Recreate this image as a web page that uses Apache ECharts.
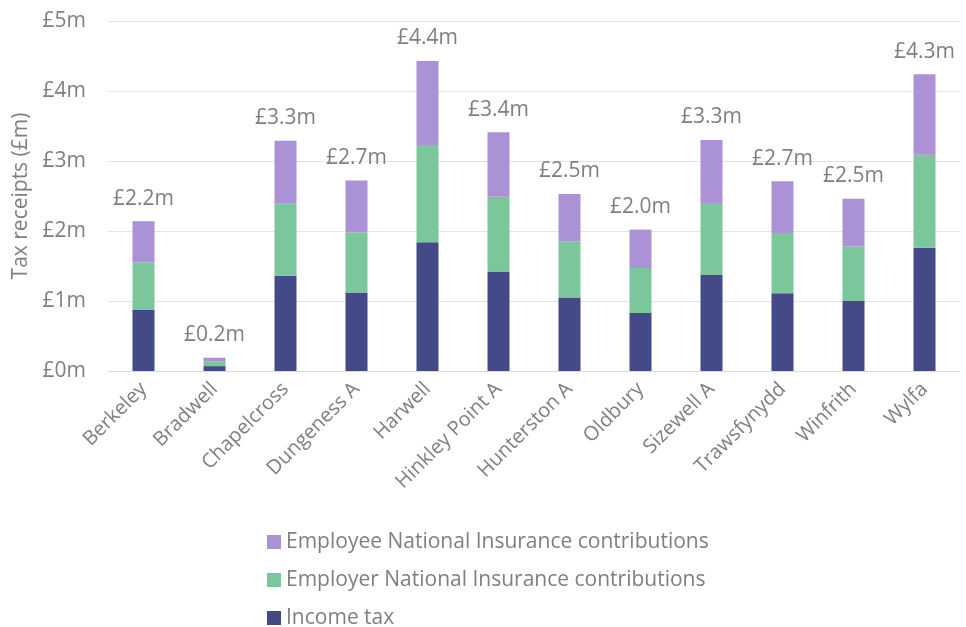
<!DOCTYPE html>
<html>
<head>
<meta charset="utf-8">
<script src="https://cdn.jsdelivr.net/npm/echarts@6/dist/echarts.min.js"></script>
<style>html,body{margin:0;padding:0;background:#fff}#c{width:966px;height:627px}</style>
</head>
<body>
<div id="c"></div>
<script>
const categories = ["Berkeley","Bradwell","Chapelcross","Dungeness A","Harwell","Hinkley Point A","Hunterston A","Oldbury","Sizewell A","Trawsfynydd","Winfrith","Wylfa"];
const incomeTax = [0.87, 0.07, 1.36, 1.12, 1.84, 1.42, 1.05, 0.83, 1.37, 1.11, 1.00, 1.76];
const employerNI = [0.68, 0.07, 1.03, 0.86, 1.39, 1.07, 0.80, 0.64, 1.03, 0.86, 0.78, 1.33];
const employeeNI = [0.59, 0.05, 0.90, 0.74, 1.20, 0.92, 0.68, 0.55, 0.90, 0.74, 0.68, 1.15];
const totalLabels = ["£2.2m","£0.2m","£3.3m","£2.7m","£4.4m","£3.4m","£2.5m","£2.0m","£3.3m","£2.7m","£2.5m","£4.3m"];
const yTicks = ["£0m","£1m","£2m","£3m","£4m","£5m"];

const FONT = "Open Sans";
const GREY = "#7f7f7f";
const chart = echarts.init(document.getElementById('c'));
const barW = 22;
chart.setOption({
  animation: false,
  textStyle: { fontFamily: FONT },
  grid: { left: 108, right: 6, top: 21, bottom: 256, containLabel: false },
  legend: {
    orient: 'vertical', left: 262, top: 526, height: 115, itemGap: 16,
    itemWidth: 14, itemHeight: 14, icon: 'rect',
    textStyle: { fontSize: 21, lineHeight: 22, color: GREY, fontFamily: FONT },
    data: ["Employee National Insurance contributions","Employer National Insurance contributions","Income tax"]
  },
  xAxis: {
    type: 'category', data: categories,
    axisLine: { lineStyle: { color: '#d9d9d9' } },
    axisTick: { show: false },
    axisLabel: { rotate: 45, fontSize: 20, color: GREY, margin: 15, interval: 0, fontFamily: FONT }
  },
  yAxis: {
    type: 'value', min: 0, max: 5, interval: 1,
    name: 'Tax receipts (£m)', nameLocation: 'middle', nameGap: 70, nameRotate: 90,
    nameTextStyle: { fontSize: 21, color: GREY, fontFamily: FONT },
    axisLine: { show: false }, axisTick: { show: false },
    splitLine: { lineStyle: { color: '#e3e3e3' } },
    axisLabel: { fontSize: 21, color: GREY, margin: 22, fontFamily: FONT, formatter: (v) => yTicks[Math.round(v)] }
  },
  series: [
    { name: 'Income tax', type: 'bar', stack: 't', barWidth: barW, data: incomeTax, itemStyle: { color: '#434a87' } },
    { name: 'Employer National Insurance contributions', type: 'bar', stack: 't', barWidth: barW, data: employerNI, itemStyle: { color: '#7bc79b' } },
    { name: 'Employee National Insurance contributions', type: 'bar', stack: 't', barWidth: barW, data: employeeNI, itemStyle: { color: '#ab91d5' },
      label: { show: true, position: 'top', distance: 12, fontSize: 21, color: GREY, fontFamily: FONT,
        formatter: (p) => totalLabels[p.dataIndex] } }
  ]
});
</script>
</body>
</html>
